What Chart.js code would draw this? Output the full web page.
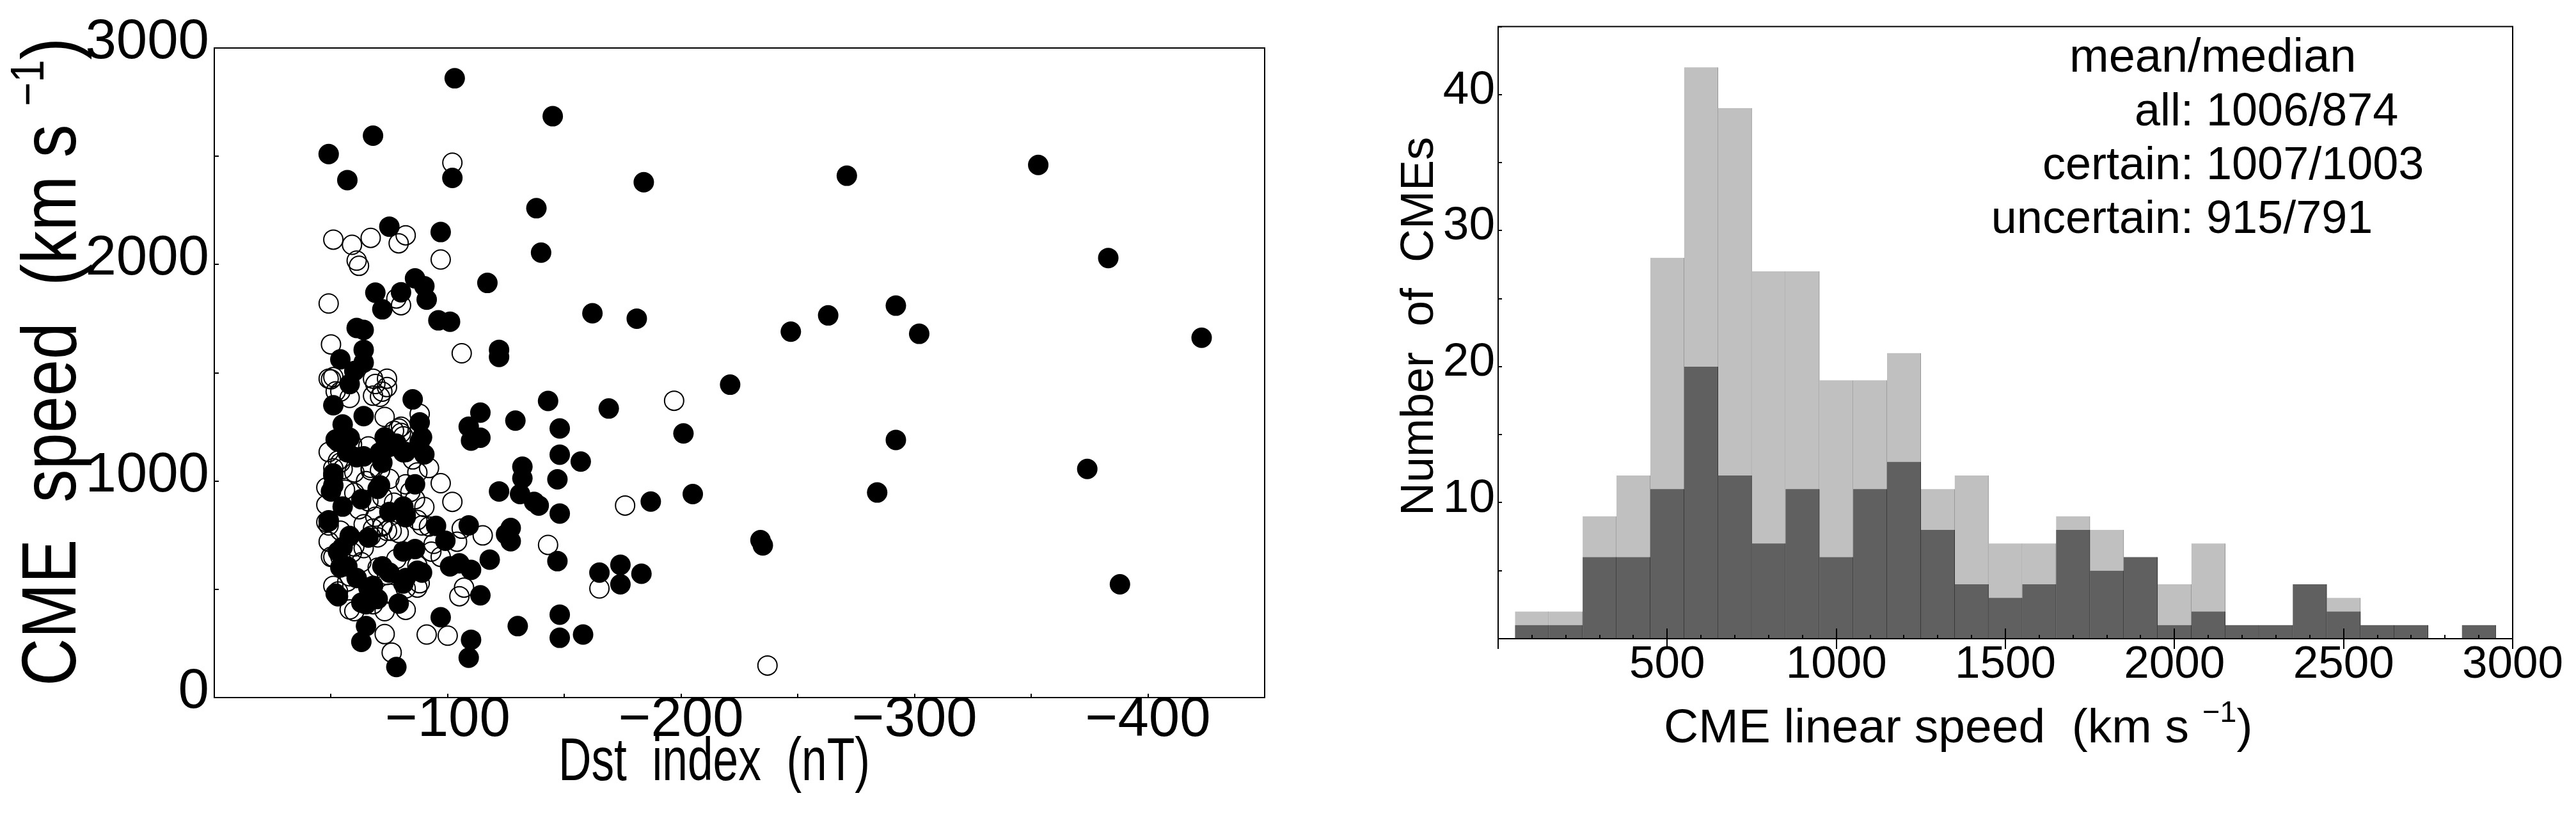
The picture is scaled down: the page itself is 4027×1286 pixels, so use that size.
<!DOCTYPE html>
<html>
<head>
<meta charset="utf-8">
<script src="https://cdn.jsdelivr.net/npm/chart.js@4.4.1/dist/chart.umd.min.js"></script>
<style>
  html, body { margin: 0; padding: 0; background: #fff; }
  #wrap { position: relative; width: 4027px; height: 1286px; overflow: hidden; }
  canvas { position: absolute; top: 0; }
  #dst { left: 0; width: 2040px; height: 1286px; }
  #hist { left: 2040px; width: 1987px; height: 1286px; }
</style>
</head>
<body>
<div id="wrap">
  <canvas id="dst" width="2040" height="1286"></canvas>
  <canvas id="hist" width="1987" height="1286"></canvas>
</div>
<script>
// ---- left panel: Dst index vs CME speed, [Dst (nT), speed (km/s)] ----
const certainEvents = [
  [-103, 2860], [-145, 2685], [-68, 2595], [-49, 2510], [-102, 2400], [-57, 2390], [-184, 2380],
  [-271, 2410], [-353, 2460], [-138, 2260], [-75, 2175], [-97, 2150], [-140, 2055], [-383, 2030],
  [-117, 1915], [-86, 1936], [-90, 1900], [-80, 1872], [-69, 1870], [-91, 1838], [-72, 1793],
  [-292, 1810], [-162, 1775], [-181, 1750], [-263, 1765], [-96, 1742], [-101, 1736], [-247, 1690],
  [-302, 1680], [-423, 1662], [-61, 1707], [-64, 1698], [-64, 1606], [-122, 1606], [-122, 1573],
  [-54, 1562], [-64, 1547], [-60, 1508], [-58, 1448], [-221, 1445], [-169, 1335], [-143, 1370],
  [-201, 1220], [-292, 1190], [-129, 1279], [-114, 1316], [-109, 1251], [-110, 1187], [-114, 1200],
  [-148, 1243], [-148, 1122], [-157, 1090], [-132, 1066], [-132, 1013], [-147, 1008], [-374, 1056],
  [-122, 952], [-131, 940], [-137, 904], [-139, 887], [-187, 905], [-205, 940], [-284, 947],
  [-148, 850], [-109, 795], [-127, 783], [-127, 722], [-234, 727], [-235, 703], [-147, 630],
  [-118, 637], [-165, 577], [-174, 613], [-183, 572], [-174, 523], [-388, 523], [-114, 472],
  [-148, 383], [-148, 276], [-158, 291], [-130, 330], [-110, 267], [-109, 184], [-97, 371],
  [-78, 141], [-65, 330], [-63, 257],
  [-51, 1350], [-85, 1377], [-88, 1271], [-89, 1202], [-90, 1123], [-55, 1261], [-64, 1300],
  [-52, 1192], [-58, 1200], [-73, 1202], [-78, 1173], [-57, 1133], [-64, 1114], [-71, 1133],
  [-81, 1133], [-51, 1035], [-71, 980], [-86, 985], [-51, 980], [-55, 882], [-81, 882], [-75, 857],
  [-82, 833], [-49, 813], [-95, 793], [-66, 739], [-99, 724], [-125, 754], [-55, 695], [-81, 675],
  [-101, 606], [-105, 620], [-110, 590], [-57, 606], [-72, 606], [-87, 586], [-81, 527], [-66, 508],
  [-53, 468], [-63, 438], [-79, 434], [-53, 1182], [-51, 1025], [-50, 952], [-49, 819], [-53, 674],
  [-54, 601], [-52, 480], [-61, 552], [-65, 431], [-68, 516], [-70, 455], [-75, 577], [-86, 686],
  [-82, 552], [-89, 577], [-58, 746], [-63, 916], [-70, 964], [-72, 1085], [-61, 1110], [-75, 1158],
  [-82, 1134], [-88, 1182]
];
const uncertainEvents = [
  [-102, 2470], [-51, 2115], [-67, 2123], [-59, 2091], [-82, 2135], [-79, 2098], [-61, 2018],
  [-62, 1994], [-97, 2023], [-49, 1820], [-80, 1812], [-78, 1843], [-50, 1631], [-106, 1590],
  [-197, 1371], [-102, 904], [-176, 887], [-143, 705], [-165, 504], [-105, 468], [-91, 291],
  [-100, 286], [-73, 293], [-76, 208], [-237, 148],
  [-50, 1470], [-51, 1480], [-52, 1414], [-58, 1384], [-69, 1448], [-74, 1473], [-74, 1434],
  [-68, 1394], [-71, 1389], [-88, 1310], [-73, 1296], [-80, 1251], [-80, 1222], [-77, 1232],
  [-51, 1059], [-53, 1094], [-55, 1055], [-87, 1040], [-60, 1040], [-67, 1050], [-71, 1050],
  [-115, 749], [-106, 780], [-104, 720], [-92, 790], [-87, 820], [-48, 970], [-48, 890], [-48, 810],
  [-49, 720], [-50, 650], [-54, 650], [-59, 670], [-64, 690], [-70, 740], [-74, 770], [-79, 760],
  [-57, 536], [-53, 490], [-60, 399], [-73, 399], [-82, 405], [-107, 508], [-87, 508], [-74, 566],
  [-87, 610], [-97, 650], [-82, 985], [-72, 926], [-66, 906], [-60, 945], [-64, 800], [-68, 780],
  [-72, 790], [-76, 770], [-49, 1473], [-54, 1413], [-68, 1473], [-72, 1413], [-79, 1243],
  [-81, 1207], [-49, 1134], [-54, 1085], [-67, 1061], [-49, 795], [-54, 771], [-60, 698], [-67, 746],
  [-72, 795], [-82, 843], [-86, 916], [-89, 795], [-93, 674], [-51, 649], [-63, 625], [-75, 480],
  [-68, 431], [-58, 407], [-51, 516], [-82, 504], [-88, 528], [-56, 960], [-62, 870], [-69, 835],
  [-77, 900], [-84, 950], [-90, 880], [-94, 710], [-58, 560], [-70, 600], [-78, 640], [-65, 1000],
  [-75, 1010], [-59, 1170], [-66, 1160], [-85, 1100], [-92, 1060], [-97, 990]
];
const dstTicks = [-100, -200, -300, -400];
const speedTicks = [0, 1000, 2000, 3000];

// ---- right panel: histogram of CME speeds (bins of 100 km/s) ----
const binCenters = [100, 200, 300, 400, 500, 600, 700, 800, 900, 1000, 1100, 1200, 1300, 1400, 1500,
  1600, 1700, 1800, 1900, 2000, 2100, 2200, 2300, 2400, 2500, 2600, 2700, 2800, 2900];
const allCounts = [2, 2, 9, 12, 28, 42, 39, 27, 27, 19, 19, 21, 11, 12, 7, 7, 9, 8, 6, 4, 7, 1, 1, 4, 3, 1, 1, null, 1];
const certainCounts = [1, 1, 6, 6, 11, 20, 12, 7, 11, 6, 11, 13, 8, 4, 3, 4, 8, 5, 6, 1, 2, 1, 1, 4, 2, 1, 1, null, 1];
const speedBinTicks = [500, 1000, 1500, 2000, 2500, 3000];
const countTicks = [10, 20, 30, 40];
const statLabels = ['all:', 'certain:', 'uncertain:'];
const statValues = ['1006/874', '1007/1003', '915/791'];

const sans = '"Liberation Sans", Arial, sans-serif';
const MINUS = '\u2212';

// draws a run of text pieces (for superscripts); sx squeezes the text horizontally
function drawParts(ctx, it) {
  ctx.save();
  ctx.translate(it.x, it.y);
  if (it.rot) ctx.rotate(it.rot);
  if (it.sx) ctx.scale(it.sx, 1);
  ctx.fillStyle = '#000';
  ctx.textAlign = 'left';
  ctx.textBaseline = 'alphabetic';
  let w = 0;
  it.parts.forEach(p => { ctx.font = p.font; w += ctx.measureText(p.text).width; });
  let cx = it.align === 'center' ? -w / 2 : (it.align === 'right' ? -w : 0);
  it.parts.forEach(p => {
    ctx.font = p.font;
    ctx.fillText(p.text, cx, -(p.rise || 0));
    cx += ctx.measureText(p.text).width;
  });
  ctx.restore();
}

// frame round the plot area plus inward tick marks
function frameTicks(cfg) {
  return {
    id: 'frameTicks',
    afterDraw(chart) {
      const ctx = chart.ctx, a = chart.chartArea;
      const xs = chart.scales.x, ys = chart.scales.y;
      ctx.save();
      ctx.strokeStyle = '#000';
      ctx.lineWidth = 2;
      ctx.strokeRect(a.left, a.top, a.right - a.left, a.bottom - a.top);
      ctx.beginPath();
      for (let v = cfg.x.from; v <= cfg.x.to; v += cfg.x.step) {
        const px = Math.round(xs.getPixelForValue(v));
        const major = cfg.x.major && v % cfg.x.major === 0;
        ctx.moveTo(px, a.bottom + (major ? cfg.x.majorOut : 0));
        ctx.lineTo(px, a.bottom - (major ? cfg.x.majorIn : cfg.x.len));
      }
      for (let v = cfg.y.from; v <= cfg.y.to; v += cfg.y.step) {
        const py = Math.round(ys.getPixelForValue(v));
        ctx.moveTo(a.left, py);
        ctx.lineTo(a.left + cfg.y.len, py);
      }
      ctx.stroke();
      ctx.restore();
    }
  };
}

function textLayer(items) {
  return {
    id: 'textLayer',
    afterDraw(chart) {
      items.forEach(it => drawParts(chart.ctx, it));
    }
  };
}

// ---------------- left chart ----------------
new Chart(document.getElementById('dst'), {
  type: 'scatter',
  data: {
    datasets: [
      {
        label: 'certain',
        data: certainEvents.map(([x, y]) => ({ x, y })),
        pointRadius: 16,
        pointHoverRadius: 16,
        pointBackgroundColor: '#000',
        pointBorderWidth: 0
      },
      {
        label: 'uncertain',
        data: uncertainEvents.map(([x, y]) => ({ x, y })),
        pointRadius: 15,
        pointHoverRadius: 15,
        pointBackgroundColor: 'rgba(0,0,0,0)',
        pointBorderColor: '#000',
        pointBorderWidth: 2
      }
    ]
  },
  options: {
    responsive: false,
    animation: false,
    devicePixelRatio: 1,
    layout: { padding: { top: 75, right: 63, left: 0, bottom: 0 } },
    plugins: { legend: { display: false }, tooltip: { enabled: false } },
    scales: {
      x: {
        type: 'linear', min: -450, max: 0, reverse: true,
        grid: { display: false, drawTicks: false }, border: { display: false },
        afterBuildTicks: s => { s.ticks = dstTicks.map(v => ({ value: v })); },
        afterFit: s => { s.height = 196; },
        ticks: {
          color: '#000', font: { family: sans, size: 87, lineHeight: 1 }, padding: -7,
          maxRotation: 0, autoSkip: false,
          callback: v => MINUS + Math.abs(v)
        }
      },
      y: {
        type: 'linear', min: 0, max: 3000,
        grid: { display: false, drawTicks: false }, border: { display: false },
        afterBuildTicks: s => { s.ticks = speedTicks.map(v => ({ value: v })); },
        afterFit: s => { s.width = 335; },
        ticks: {
          color: '#000', font: { family: sans, size: 87, lineHeight: 1 }, padding: 8, labelOffset: -8,
          callback: v => String(v)
        }
      }
    }
  },
  plugins: [
    frameTicks({ x: { from: -450, to: 0, step: 50, len: 6 }, y: { from: 0, to: 3000, step: 500, len: 7 } }),
    textLayer([
      { x: 118, y: 1072, rot: -Math.PI / 2, sx: 0.86, align: 'left', parts: [
        { text: 'CME  speed  (km s ', font: '120px ' + sans },
        { text: MINUS + '1', font: '74px ' + sans, rise: 50 },
        { text: ')', font: '120px ' + sans }
      ] },
      { x: 873, y: 1219, sx: 0.75, align: 'left', parts: [
        { text: 'Dst  index  (nT)', font: '95px ' + sans }
      ] }
    ])
  ]
});

// ---------------- right chart ----------------
new Chart(document.getElementById('hist'), {
  type: 'bar',
  data: {
    datasets: [
      {
        label: 'certain',
        data: binCenters.map((x, i) => ({ x, y: certainCounts[i] })),
        backgroundColor: '#606060',
        borderColor: '#2e2e2e',
        borderWidth: { left: 0, right: 1, top: 0, bottom: 0 },
        order: 0
      },
      {
        label: 'all',
        data: binCenters.map((x, i) => ({ x, y: allCounts[i] })),
        backgroundColor: '#c0c0c0',
        borderColor: '#8e8e8e',
        borderWidth: { left: 0, right: 1, top: 0, bottom: 0 },
        order: 1
      }
    ]
  },
  options: {
    responsive: false,
    animation: false,
    devicePixelRatio: 1,
    layout: { padding: { top: 18, right: 99, left: 0, bottom: 0 } },
    plugins: { legend: { display: false }, tooltip: { enabled: false } },
    datasets: { bar: { grouped: false, barPercentage: 1, categoryPercentage: 1 } },
    scales: {
      x: {
        type: 'linear', min: 0, max: 3000, offset: false,
        grid: { display: false, drawTicks: false }, border: { display: false },
        afterBuildTicks: s => { s.ticks = speedBinTicks.map(v => ({ value: v })); },
        afterFit: s => { s.height = 288; },
        ticks: {
          color: '#000', font: { family: sans, size: 71, lineHeight: 1 }, padding: 6,
          maxRotation: 0, autoSkip: false, callback: v => String(v)
        }
      },
      y: {
        type: 'linear', min: 0, max: 45,
        grid: { display: false, drawTicks: false }, border: { display: false },
        afterBuildTicks: s => { s.ticks = countTicks.map(v => ({ value: v })); },
        afterFit: s => { s.width = 302; },
        ticks: {
          color: '#000', font: { family: sans, size: 73, lineHeight: 1 }, padding: 5, labelOffset: -6,
          callback: v => String(v)
        }
      }
    }
  },
  plugins: [
    frameTicks({ x: { from: 0, to: 3000, step: 100, len: 6, major: 500, majorIn: 16, majorOut: 16 },
                 y: { from: 0, to: 45, step: 5, len: 6 } }),
    textLayer([
      { x: 200, y: 510, rot: -Math.PI / 2, align: 'center', parts: [
        { text: 'Number  of  CMEs', font: '72px ' + sans }
      ] },
      { x: 561, y: 1160, align: 'left', parts: [
        { text: 'CME linear speed  (km s ', font: '75px ' + sans },
        { text: MINUS + '1', font: '47px ' + sans, rise: 32 },
        { text: ')', font: '75px ' + sans }
      ] },
      { x: 1195, y: 112, align: 'left', parts: [{ text: 'mean/median', font: '74px ' + sans }] },
      ...statLabels.map((t, i) => ({ x: 1389, y: 196 + i * 84, align: 'right', parts: [{ text: t, font: '72px ' + sans }] })),
      ...statValues.map((t, i) => ({ x: 1409, y: 196 + i * 84, align: 'left', parts: [{ text: t, font: '72px ' + sans }] }))
    ])
  ]
});
</script>
</body>
</html>
